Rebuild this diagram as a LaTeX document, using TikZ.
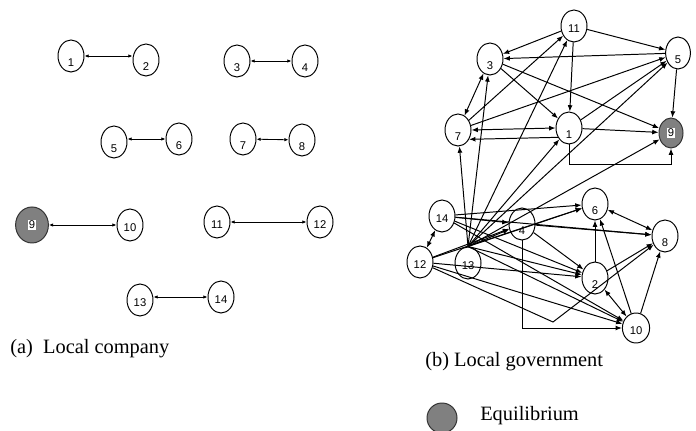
\documentclass[tikz,border=0pt]{standalone}
\usepackage{fontspec}
\setmainfont{Liberation Serif}
\newfontfamily\numfont{Liberation Sans}
\usetikzlibrary{shapes.geometric,arrows.meta}
% digits sit low in the ellipses
\newcommand\lowone[1]{\raisebox{-7.6pt}[0pt][0pt]{#1}}
\newcommand\lowtwo[1]{\raisebox{-4.6pt}[0pt][0pt]{#1}}

\begin{document}
\begin{tikzpicture}[x=0.025cm,y=-0.025cm,
  nd/.style={draw,ellipse,line width=0.7pt,minimum width=0.65cm,minimum height=0.8cm,inner sep=0pt,font=\numfont\fontsize{8}{9}\selectfont},
  eq/.style={nd,fill=black!50,draw=black!80},
  dbl/.style={{Latex[length=3pt,width=2.5pt]}-{Latex[length=3pt,width=2.5pt]},line width=0.6pt},
  arr/.style={-{Latex[length=4.5pt,width=3.5pt]},line width=0.7pt},
  both/.style={{Latex[length=4.5pt,width=3.5pt]}-{Latex[length=4.5pt,width=3.5pt]},line width=0.7pt},
  capt/.style={font=\fontsize{14.5}{16}\selectfont,anchor=west,inner sep=0pt}]
\useasboundingbox (0,0) rectangle (696,431);
\setlength\fboxsep{0.6pt}

% (a) local company
\node[nd] (c1) at (71,56) {\lowone{1}};
\node[nd] (c2) at (146,60) {\lowone{2}};
\node[nd] (c3) at (237,61) {\lowone{3}};
\node[nd] (c4) at (305,61) {\lowone{4}};
\node[nd] (c5) at (114,142) {\lowone{5}};
\node[nd] (c6) at (179,139) {\lowone{6}};
\node[nd] (c7) at (243,139) {\lowone{7}};
\node[nd] (c8) at (302,140) {\lowone{8}};
\node[eq,minimum width=0.82cm,minimum height=0.9cm] (c9) at (32,225) {\colorbox{white}{9}};
\node[nd] (c10) at (130,225) {\lowtwo{10}};
\node[nd] (c11) at (217,222) {\lowtwo{11}};
\node[nd] (c12) at (320,222) {\lowtwo{12}};
\node[nd] (c13) at (140,300) {\lowtwo{13}};
\node[nd] (c14) at (221,297) {\lowtwo{14}};
\draw[dbl] (c1.east) -- (c1.east -| c2.west);
\draw[dbl] (c3) -- (c4);
\draw[dbl] (c6.west) -- (c6.west -| c5.east);
\draw[dbl] (c7) -- (c8);
\draw[dbl] (c9) -- (c10);
\draw[dbl] (c11) -- (c12);
\draw[dbl] (c14.west) -- (c14.west -| c13.east);
\node[capt] (capa) at (10,349) {(a)\ \ Local company};

% (b) local government
\node[nd] (g11) at (574,26) {\lowtwo{11}};
\node[nd] (g3) at (490,59) {\lowone{3}};
\node[nd,minimum width=0.62cm] (g5) at (678,53) {\lowone{5}};
\node[nd] (g7) at (458,130) {\lowone{7}};
\node[nd] (g1) at (569,128) {\lowone{1}};
\node[eq,minimum width=0.6cm,minimum height=0.75cm] (g9) at (671,133) {\colorbox{white}{9}};
\node[nd] (g14) at (442,216) {\lowtwo{14}};
\node[nd] (g12) at (420,262) {\lowtwo{12}};
\node[nd] (g13) at (468,263) {\lowtwo{13}};
\node[nd] (g4) at (522,224) {\lowone{4}};
\node[nd] (g6) at (595,204) {\lowone{6}};
\node[nd] (g8) at (665,236) {\lowone{8}};
\node[nd] (g2) at (595,278) {\lowone{2}};
\node[nd,minimum width=0.68cm,minimum height=0.75cm] (g10) at (636,328) {\lowtwo{10}};
\coordinate (kink) at (553,322);

\draw[arr] (g11) -- (g3);
\draw[arr] (g11) -- (g5);
\draw[arr] (g11) -- (g1);
\draw[arr] (g5) -- (g3);
\draw[arr] (g3) -- (g9);
\draw[arr] (g3) -- (g1);
\draw[both] (g3) -- (g7);
\draw[arr] (g7) -- (g11);
\draw[arr] (g7) -- (g5);
\draw[both] (g7.east) -- (g1.west);
\draw[arr] (g1.220) -- (g7.-40);
\draw[arr] (g1) -- (g9);
\draw[arr] (g1) -- (g5);
\draw[arr] (g5) -- (g9);
\draw[arr] (g1.south) -- ++(0,20) -| (g9.south);
% fan out of 13
\draw[arr] (g13.north) -- (g7);
\draw[arr] (g13.north) -- (g3);
\draw[arr] (g13.north) -- (g11);
\draw[arr] (g13.north) -- (g1);
\draw[arr] (g13.north) -- (g5);
\draw[arr] (g13.north) -- (g9);
\draw[arr] (g13.north) -- (g4);
\draw[arr] (g13.north) -- (g6);
\draw[arr] (g13.north) -- (g2);
\draw[arr] (g13.north) -- (g10);
% 14 and 12
\draw[arr] (g14) -- (g6);
\draw[arr] (g14) -- (g4);
\draw[arr] (g14) -- (g8);
\draw[arr] (g14) -- (g2);
\draw[arr] (g14) -- (g10);
\draw[both] (g14) -- (g12);
\draw[arr] (g12) -- (g4);
\draw[arr] (g12) -- (g6);
\draw[arr] (g12) -- (g2);
\draw[arr] (g12) -- (g10);
\draw[arr] (g12) -- (kink) -- (g8);
% lower right
\draw[arr] (g4.south) |- (g10.west);
\draw[arr] (g4) -- (g2);
\draw[arr] (g4) -- (g8);
\draw[both] (g6) -- (g8);
\draw[arr] (g2) -- (g6);
\draw[arr] (g2) -- (g8);
\draw[arr] (g10) -- (g6);
\draw[arr] (g10) -- (g8);
\draw[both] (g10) -- (g2);
\node[capt] (capb) at (425,362) {(b) Local government};

% legend
\node[eq,minimum width=0.75cm,minimum height=0.75cm] (leg) at (442,418) {};
\node[capt] (legtxt) at (480,416) {Equilibrium};
\end{tikzpicture}
\end{document}
